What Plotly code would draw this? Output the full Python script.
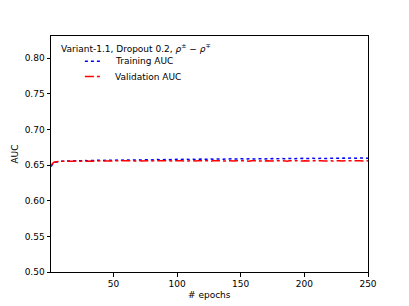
import plotly.graph_objects as go

epochs = list(range(1, 251))

train_auc = [
    0.6480, 0.6512, 0.6528, 0.6537, 0.6542, 0.6546, 0.6549, 0.6551, 0.6553, 0.6552,
    0.6555, 0.6554, 0.6557, 0.6555, 0.6558, 0.6556, 0.6559, 0.6557, 0.6560, 0.6558,
    0.6561, 0.6559, 0.6562, 0.6560, 0.6558, 0.6561, 0.6563, 0.6560, 0.6562, 0.6564,
    0.6561, 0.6563, 0.6565, 0.6562, 0.6564, 0.6566, 0.6563, 0.6565, 0.6567, 0.6564,
    0.6566, 0.6568, 0.6565, 0.6567, 0.6564, 0.6566, 0.6569, 0.6566, 0.6568, 0.6570,
    0.6567, 0.6569, 0.6566, 0.6568, 0.6571, 0.6568, 0.6570, 0.6567, 0.6569, 0.6572,
    0.6569, 0.6571, 0.6568, 0.6570, 0.6573, 0.6570, 0.6572, 0.6569, 0.6571, 0.6574,
    0.6571, 0.6573, 0.6570, 0.6572, 0.6575, 0.6572, 0.6574, 0.6571, 0.6573, 0.6576,
    0.6573, 0.6575, 0.6572, 0.6574, 0.6577, 0.6574, 0.6576, 0.6573, 0.6575, 0.6578,
    0.6575, 0.6577, 0.6574, 0.6576, 0.6579, 0.6576, 0.6578, 0.6575, 0.6577, 0.6580,
    0.6577, 0.6579, 0.6576, 0.6578, 0.6581, 0.6577, 0.6579, 0.6582, 0.6578, 0.6580,
    0.6583, 0.6579, 0.6581, 0.6578, 0.6580, 0.6583, 0.6579, 0.6581, 0.6584, 0.6580,
    0.6582, 0.6579, 0.6581, 0.6584, 0.6580, 0.6582, 0.6585, 0.6581, 0.6583, 0.6580,
    0.6582, 0.6585, 0.6581, 0.6583, 0.6586, 0.6582, 0.6584, 0.6581, 0.6583, 0.6586,
    0.6582, 0.6584, 0.6587, 0.6583, 0.6585, 0.6582, 0.6584, 0.6587, 0.6583, 0.6585,
    0.6588, 0.6584, 0.6586, 0.6583, 0.6585, 0.6588, 0.6584, 0.6586, 0.6589, 0.6585,
    0.6587, 0.6584, 0.6586, 0.6589, 0.6585, 0.6587, 0.6590, 0.6586, 0.6588, 0.6585,
    0.6587, 0.6590, 0.6586, 0.6588, 0.6591, 0.6587, 0.6589, 0.6586, 0.6588, 0.6591,
    0.6587, 0.6589, 0.6592, 0.6588, 0.6590, 0.6587, 0.6589, 0.6592, 0.6588, 0.6590,
    0.6593, 0.6589, 0.6591, 0.6588, 0.6590, 0.6593, 0.6589, 0.6591, 0.6594, 0.6590,
    0.6592, 0.6589, 0.6591, 0.6594, 0.6590, 0.6592, 0.6595, 0.6591, 0.6593, 0.6590,
    0.6592, 0.6595, 0.6591, 0.6593, 0.6596, 0.6592, 0.6594, 0.6591, 0.6593, 0.6596,
    0.6592, 0.6594, 0.6597, 0.6593, 0.6595, 0.6592, 0.6594, 0.6597, 0.6593, 0.6595,
    0.6598, 0.6594, 0.6596, 0.6593, 0.6595, 0.6598, 0.6594, 0.6596, 0.6599, 0.6595,
    0.6597, 0.6594, 0.6596, 0.6599, 0.6595, 0.6597, 0.6600, 0.6596, 0.6598, 0.6597,
]

val_auc = [
    0.6495, 0.6522, 0.6536, 0.6543, 0.6547, 0.6550, 0.6552, 0.6551, 0.6554, 0.6553,
    0.6555, 0.6553, 0.6556, 0.6554, 0.6557, 0.6555, 0.6553, 0.6556, 0.6558, 0.6555,
    0.6557, 0.6554, 0.6556, 0.6558, 0.6555, 0.6557, 0.6559, 0.6556, 0.6554, 0.6557,
    0.6559, 0.6556, 0.6558, 0.6555, 0.6557, 0.6560, 0.6557, 0.6559, 0.6556, 0.6558,
    0.6560, 0.6557, 0.6555, 0.6558, 0.6560, 0.6557, 0.6559, 0.6556, 0.6558, 0.6561,
    0.6558, 0.6556, 0.6559, 0.6561, 0.6558, 0.6560, 0.6557, 0.6559, 0.6562, 0.6558,
    0.6556, 0.6559, 0.6561, 0.6557, 0.6560, 0.6558, 0.6556, 0.6559, 0.6561, 0.6558,
    0.6560, 0.6557, 0.6559, 0.6562, 0.6558, 0.6556, 0.6559, 0.6561, 0.6557, 0.6560,
    0.6558, 0.6556, 0.6559, 0.6561, 0.6558, 0.6560, 0.6557, 0.6559, 0.6562, 0.6558,
    0.6556, 0.6559, 0.6561, 0.6557, 0.6560, 0.6558, 0.6555, 0.6559, 0.6561, 0.6558,
    0.6560, 0.6557, 0.6559, 0.6562, 0.6558, 0.6556, 0.6559, 0.6561, 0.6557, 0.6560,
    0.6558, 0.6555, 0.6559, 0.6561, 0.6558, 0.6560, 0.6557, 0.6559, 0.6562, 0.6558,
    0.6556, 0.6559, 0.6561, 0.6557, 0.6560, 0.6558, 0.6555, 0.6559, 0.6561, 0.6558,
    0.6560, 0.6557, 0.6559, 0.6562, 0.6558, 0.6556, 0.6559, 0.6561, 0.6557, 0.6560,
    0.6558, 0.6555, 0.6559, 0.6561, 0.6558, 0.6560, 0.6557, 0.6559, 0.6562, 0.6558,
    0.6556, 0.6559, 0.6561, 0.6557, 0.6560, 0.6558, 0.6555, 0.6559, 0.6561, 0.6558,
    0.6560, 0.6557, 0.6559, 0.6562, 0.6558, 0.6556, 0.6559, 0.6561, 0.6557, 0.6560,
    0.6558, 0.6555, 0.6559, 0.6561, 0.6558, 0.6560, 0.6557, 0.6559, 0.6562, 0.6558,
    0.6556, 0.6559, 0.6561, 0.6557, 0.6560, 0.6558, 0.6555, 0.6559, 0.6561, 0.6558,
    0.6560, 0.6557, 0.6559, 0.6562, 0.6558, 0.6556, 0.6559, 0.6561, 0.6557, 0.6560,
    0.6558, 0.6556, 0.6559, 0.6561, 0.6558, 0.6560, 0.6557, 0.6559, 0.6562, 0.6558,
    0.6556, 0.6559, 0.6561, 0.6557, 0.6560, 0.6558, 0.6556, 0.6559, 0.6561, 0.6558,
    0.6560, 0.6557, 0.6559, 0.6562, 0.6558, 0.6556, 0.6559, 0.6561, 0.6557, 0.6560,
    0.6558, 0.6556, 0.6559, 0.6561, 0.6558, 0.6560, 0.6557, 0.6559, 0.6562, 0.6558,
    0.6556, 0.6559, 0.6561, 0.6557, 0.6560, 0.6558, 0.6556, 0.6559, 0.6561, 0.6560,
]

legend_title = "Variant-1.1, Dropout 0.2, <i>ρ</i><sup>±</sup> − <i>ρ</i><sup>∓</sup>"
series_names = ["Training AUC", "Validation AUC"]
x_ticks = [50, 100, 150, 200, 250]
y_ticks = [0.50, 0.55, 0.60, 0.65, 0.70, 0.75, 0.80]
x_title = "# epochs"
y_title = "AUC"

FONT = "DejaVu Sans"
FS = 9
colors = ["blue", "red"]
dashes = ["dot", "dashdot"]

fig = go.Figure()
for name, ys, c, d in zip(series_names, [train_auc, val_auc], colors, dashes):
    fig.add_trace(go.Scatter(x=epochs, y=ys, mode="lines", name=name,
                             line=dict(color=c, dash=d, width=1.5)))

axis_common = dict(showline=True, linecolor="black", linewidth=1, mirror=True,
                   ticks="outside", ticklen=3.5, tickwidth=1, tickcolor="black",
                   showgrid=False, zeroline=False, automargin=False,
                   tickfont=dict(family=FONT, size=FS, color="black"))

fig.update_xaxes(range=[1, 250], tickvals=x_ticks, **axis_common)
fig.update_yaxes(range=[0.5, 0.831], tickvals=y_ticks, tickformat=".2f", **axis_common)

# axis titles
fig.add_annotation(text=x_title, xref="paper", yref="paper", x=0.5, y=-0.097,
                   xanchor="center", yanchor="middle", showarrow=False,
                   font=dict(family=FONT, size=FS, color="black"))
fig.add_annotation(text=y_title, xref="paper", yref="paper", x=-0.115, y=0.5,
                   xanchor="center", yanchor="middle", showarrow=False, textangle=-90,
                   font=dict(family=FONT, size=FS, color="black"))

# legend (drawn manually to match compact matplotlib spacing)
fig.add_annotation(text=legend_title, xref="x domain", yref="y domain", x=0.025, y=0.948,
                   xanchor="left", yanchor="middle", showarrow=False,
                   font=dict(family=FONT, size=FS, color="black"))
leg_y = [0.893, 0.828]
for name, c, d, yy in zip(series_names, colors, dashes, leg_y):
    fig.add_shape(type="line", xref="x domain", yref="y domain",
                  x0=0.107, x1=0.163, y0=yy, y1=yy,
                  line=dict(color=c, dash=d, width=1.5))
    fig.add_annotation(text=name, xref="x domain", yref="y domain", x=0.195, y=yy,
                       xanchor="left", yanchor="middle", showarrow=False,
                       font=dict(family=FONT, size=FS, color="black"))

# page body adds an 8px offset; compensate in margins
fig.update_layout(
    width=409, height=306,
    margin=dict(l=43, r=49, t=28, b=42),
    paper_bgcolor="white", plot_bgcolor="white",
    font=dict(family=FONT, size=FS, color="black"),
    showlegend=False,
)

fig.write_html("out.html")
